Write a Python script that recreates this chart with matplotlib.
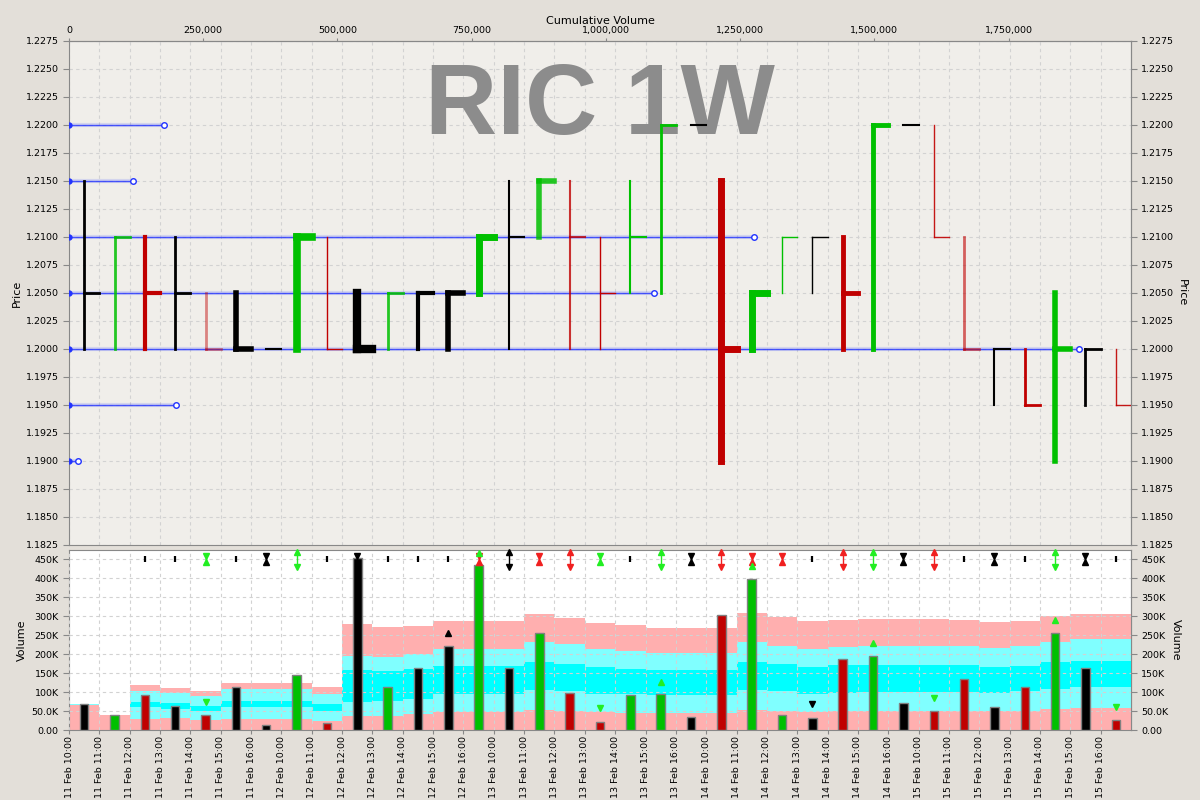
""" ric_1w.py

HLC bars by hourly slot, volume-at-price lines on a cumulative volume scale,
and hourly volume with percentile bands underneath.
"""

import numpy as np
import matplotlib
matplotlib.use('Agg')
import matplotlib.pyplot as plt
from matplotlib.ticker import FuncFormatter, MultipleLocator

days = ['11 Feb', '12 Feb', '13 Feb', '14 Feb', '15 Feb']
hours = ['10:00', '11:00', '12:00', '13:00', '14:00', '15:00', '16:00']
slot_labels = [f'{d} {h}' for d in days for h in hours]

# price bars, one per hourly slot
bar_high = [1.215, 1.210, 1.210, 1.210, 1.205, 1.205, 1.200, 1.210, 1.210, 1.205,
            1.205, 1.205, 1.205, 1.210, 1.215, 1.215, 1.215, 1.210, 1.215, 1.220,
            1.220, 1.215, 1.205, 1.210, 1.210, 1.210, 1.220, 1.220, 1.220, 1.210,
            1.200, 1.200, 1.205, 1.200, 1.200]
bar_low = [1.200, 1.200, 1.200, 1.200, 1.200, 1.200, 1.200, 1.200, 1.200, 1.200,
           1.200, 1.200, 1.200, 1.205, 1.200, 1.210, 1.200, 1.200, 1.205, 1.205,
           1.220, 1.190, 1.200, 1.205, 1.205, 1.200, 1.200, 1.220, 1.210, 1.200,
           1.195, 1.195, 1.190, 1.195, 1.195]
bar_close = [1.205, 1.210, 1.205, 1.205, 1.200, 1.200, 1.200, 1.210, 1.200, 1.200,
             1.205, 1.205, 1.205, 1.210, 1.210, 1.215, 1.210, 1.205, 1.210, 1.220,
             1.220, 1.200, 1.205, 1.210, 1.210, 1.205, 1.220, 1.220, 1.210, 1.200,
             1.200, 1.195, 1.200, 1.200, 1.195]
bar_dir = ['k', 'g', 'r', 'k', 'r', 'k', 'k', 'g', 'r', 'k',
           'g', 'k', 'k', 'g', 'k', 'g', 'r', 'r', 'g', 'g',
           'k', 'r', 'g', 'g', 'k', 'r', 'g', 'k', 'r', 'r',
           'k', 'r', 'g', 'k', 'r']
bar_lw = [2, 2, 3, 2, 2, 4, 1.5, 5.5, 1, 6,
          2, 3, 4, 5, 1.5, 4, 1.5, 1, 1.5, 2,
          1.5, 5, 5, 1, 1, 3.5, 3.5, 1.5, 1, 2,
          1.5, 2, 4, 2, 1]
bar_alpha = [1, 0.85, 1, 1, 0.45, 1, 1, 1, 1, 1,
             0.85, 1, 1, 1, 1, 0.85, 0.8, 1, 1, 1,
             1, 1, 1, 1, 1, 1, 1, 1, 0.9, 0.6,
             1, 1, 1, 1, 0.9]

# hourly volume (thousands)
volume = [67.6, 38.6, 91, 62, 38.6, 112, 12, 146, 17.6, 452,
          112, 164, 222, 433, 164, 256, 96.5, 22, 91, 94,
          35, 303, 398, 39, 32, 186, 196, 70, 49, 133,
          60, 112, 254, 162, 25.5]

# volume band boundaries (thousands), bottom to top
band_1 = [66, 39.5, 28.9, 32.5, 26.3, 29.8, 29.8, 29.8, 24.6, 36.8,
          37.7, 42.1, 47.4, 47.4, 47.4, 52.6, 50.9, 47.4, 45.6, 44.7,
          44.7, 44.7, 52.6, 50, 46.5, 49.1, 50, 50, 50, 50,
          49.1, 50.9, 55.3, 57.9, 57.9]
band_2 = [67, 39.5, 59.6, 54.4, 49.1, 59.6, 59.6, 59.6, 49.1, 73.7,
          75.4, 82.5, 93.9, 93.9, 93.9, 105.3, 102.6, 94.7, 93.9, 91.2,
          91.2, 91.2, 104.4, 101.8, 94.7, 97.4, 100, 100, 100, 100.5,
          97.4, 102.6, 108.8, 114, 114]
band_3 = [67, 39.5, 74.6, 70.2, 63.2, 77.2, 77.2, 77.2, 68.4, 157.9,
          154.4, 161.4, 167.6, 167.6, 167.6, 178.9, 174.5, 164.9, 160.5, 157.9,
          157.9, 157.9, 178.9, 173.7, 166.7, 170.2, 171.9, 171.9, 171.9, 171,
          165.8, 169.3, 178.1, 181.6, 181.6]
band_4 = [68, 39.5, 101.8, 96.5, 89.5, 107, 107, 107, 94.7, 194.7,
          191.2, 199.1, 214, 214, 214, 231.6, 225.5, 212.3, 207.9, 203.5,
          203.5, 203.5, 231.6, 221.8, 213.2, 217.6, 221.8, 221.8, 221.8, 221.5,
          215.8, 221, 232.5, 238.6, 238.6]
band_5 = [68, 39.5, 117.5, 109.6, 102.6, 124.5, 124.5, 124.5, 114, 279,
          271, 273.7, 287.7, 287.7, 287.7, 304.4, 295.6, 281.6, 275.4, 269.3,
          269.3, 269.3, 307, 296.5, 286.8, 289.5, 292.1, 292.1, 292.1, 289.5,
          283.3, 286.8, 300.9, 306.1, 306.1]

# signal glyphs at the top of the volume panel
sig_kind = ['', '', 'I', 'I', 'bow', 'I', 'bow', 'arrows', 'I', 'down',
            'I', 'I', 'I', 'bow', 'arrows', 'bow', 'arrows', 'bow', 'I', 'arrows',
            'bow', 'arrows', 'bow', 'bow', 'I', 'arrows', 'arrows', 'bow', 'arrows', 'I',
            'bow', 'I', 'arrows', 'bow', 'I']
sig_color = ['k', 'k', 'k', 'k', 'g', 'k', 'k', 'g', 'k', 'k',
             'k', 'k', 'k', 'r', 'k', 'r', 'r', 'g', 'k', 'g',
             'k', 'r', 'r', 'r', 'k', 'r', 'g', 'k', 'r', 'k',
             'k', 'k', 'g', 'k', 'k']

# extra arrow marks (slot, thousands, up/down, colour)
mark_slot = [4, 12, 13, 17, 19, 22, 24, 26, 28, 32, 34]
mark_value = [73, 256, 466, 58, 127, 432, 68, 230, 83, 289, 60]
mark_dir = ['v', '^', '^', 'v', '^', '^', 'v', '^', 'v', '^', 'v']
mark_color = ['g', 'k', 'g', 'g', 'g', 'g', 'k', 'g', 'g', 'g', 'g']

# volume at price
vap_price = [1.220, 1.215, 1.210, 1.205, 1.200, 1.195, 1.190]
vap_volume = [177000, 119000, 1275000, 1090000, 1881000, 199000, 17000]
VAP_MAX = 1978000

BAR_COLORS = {'k': '#000000', 'g': '#00C000', 'r': '#C00000'}
SIG_COLORS = {'k': '#000000', 'g': '#22EE22', 'r': '#F02020'}
PINK = '#FFAFAF'
LIGHT_CYAN = '#80FFFF'
CYAN = '#00FFFF'
GRID_KW = dict(color='#D2D2D2', linestyle=(0, (3, 3)), linewidth=0.8)
TICK_FS = 6.8
LABEL_FS = 8

plt.rcParams['font.family'] = ['DejaVu Sans']
plt.rcParams['font.size'] = TICK_FS

fig = plt.figure(figsize=(12, 8), dpi=100, facecolor='#E3DFD9')
ax = fig.add_axes([69 / 1200, 1 - 545 / 800, 1062 / 1200, 504 / 800], facecolor='#F0EEEA')
ax_v = fig.add_axes([69 / 1200, 1 - 730 / 800, 1062 / 1200, 180 / 800],
                    facecolor='white', sharex=ax)

n = len(volume)
xs = np.arange(n) + 0.5

# ---- price panel
for i in range(n):
    col = BAR_COLORS[bar_dir[i]]
    kw = dict(color=col, lw=bar_lw[i], alpha=bar_alpha[i], zorder=4,
              solid_capstyle='projecting')
    if bar_high[i] != bar_low[i]:
        ax.plot([xs[i], xs[i]], [bar_low[i], bar_high[i]], **kw)
    ax.plot([xs[i], xs[i] + 0.5], [bar_close[i], bar_close[i]], **kw)

# volume-at-price lines on the cumulative volume scale
vol2slot = lambda v: np.asarray(v) * n / VAP_MAX
slot2vol = lambda s: np.asarray(s) * VAP_MAX / n
for price, vol in zip(vap_price, vap_volume):
    xv = vol2slot([0, vol])
    ax.plot(xv, [price, price], color='#3344FF', lw=3, alpha=0.15, zorder=3)
    ax.plot(xv, [price, price], color='#2233FF', lw=1, alpha=0.8, zorder=3)
    ax.plot(xv[0], price, 'o', ms=3.5, color='#2233FF', zorder=3)
    ax.plot(xv[1], price, 'o', ms=4, mfc='white', mec='#2233FF', mew=1, zorder=3)

ax.text(0.5, 0.868, 'RIC 1W', transform=ax.transAxes, ha='center', va='center',
        fontsize=72, fontweight='bold', family='Liberation Sans', color='#8C8C8C',
        zorder=2)

ax.set_xlim(0, n)
ax.set_ylim(1.1825, 1.2275)
ax.yaxis.set_major_locator(MultipleLocator(0.0025))
ax.yaxis.set_major_formatter(FuncFormatter(lambda v, p: f'{v:.4f}'))
ax.set_xticks(range(n))
ax.tick_params(axis='x', which='both', bottom=False, labelbottom=False)
ax.set_ylabel('Price', fontsize=LABEL_FS, labelpad=3)
ax.grid(True, **GRID_KW)
ax.set_axisbelow(True)

ax_top = ax.secondary_xaxis('top', functions=(slot2vol, vol2slot))
ax_top.set_xticks(np.arange(0, 1750001, 250000))
ax_top.xaxis.set_major_formatter(FuncFormatter(lambda v, p: f'{v:,.0f}'))
ax_top.set_xlabel('Cumulative Volume', fontsize=LABEL_FS, labelpad=2)

ax_r = ax.secondary_yaxis('right')
ax_r.yaxis.set_major_locator(MultipleLocator(0.0025))
ax_r.yaxis.set_major_formatter(FuncFormatter(lambda v, p: f'{v:.4f}'))
ax_r.set_ylabel('Price', rotation=270, labelpad=9, fontsize=LABEL_FS)

# ---- volume panel
edges = np.arange(n + 1)
bands = [np.zeros(n), band_1, band_2, band_3, band_4, band_5]
band_cols = [PINK, LIGHT_CYAN, CYAN, LIGHT_CYAN, PINK]
for lo, hi, c in zip(bands[:-1], bands[1:], band_cols):
    ax_v.fill_between(edges, np.append(lo, lo[-1]), np.append(hi, hi[-1]),
                      step='post', color=c, lw=0, zorder=1)

ax_v.bar(xs, volume, width=0.28, color=[BAR_COLORS[c] for c in bar_dir],
         edgecolor='#808080', linewidth=1, zorder=3)

for i in range(n):
    kind = sig_kind[i]
    c = SIG_COLORS[sig_color[i]]
    x = xs[i]
    if kind == 'I':
        ax_v.plot([x, x], [442, 459], color=c, lw=1.6, zorder=5, solid_capstyle='butt')
    elif kind == 'bow':
        ax_v.plot([x, x], [442, 459], color=c, lw=1, zorder=5)
        ax_v.plot(x, 459, 'v', ms=4.5, color=c, zorder=5)
        ax_v.plot(x, 442, '^', ms=4.5, color=c, zorder=5)
    elif kind == 'arrows':
        ax_v.plot([x, x], [430, 468], color=c, lw=1, zorder=5)
        ax_v.plot(x, 468, '^', ms=4.5, color=c, zorder=5, clip_on=False)
        ax_v.plot(x, 430, 'v', ms=4.5, color=c, zorder=5)
    elif kind == 'down':
        ax_v.plot(x, 458, 'v', ms=4.5, color=c, zorder=5)

for s, v, d, c in zip(mark_slot, mark_value, mark_dir, mark_color):
    ax_v.plot(xs[s], v, d, ms=5, color=SIG_COLORS[c], zorder=5)

ax_v.set_ylim(0, 473.7)
ax_v.yaxis.set_major_locator(MultipleLocator(50))
vol_fmt = FuncFormatter(lambda v, p: '0.00' if v == 0 else (f'{v:.1f}K' if v < 100 else f'{v:.0f}K'))
ax_v.yaxis.set_major_formatter(vol_fmt)
ax_v.set_xticks(range(n))
ax_v.set_xticklabels(slot_labels, rotation=90)
ax_v.set_ylabel('Volume', fontsize=LABEL_FS, labelpad=3)
ax_v.grid(True, **GRID_KW)
ax_v.set_axisbelow(False)
for ln in ax_v.get_xgridlines() + ax_v.get_ygridlines():
    ln.set_zorder(2)

ax_vr = ax_v.secondary_yaxis('right')
ax_vr.yaxis.set_major_locator(MultipleLocator(50))
ax_vr.yaxis.set_major_formatter(vol_fmt)
ax_vr.set_ylabel('Volume', rotation=270, labelpad=9, fontsize=LABEL_FS)

for a in (ax, ax_v, ax_top, ax_r, ax_vr):
    for sp in a.spines.values():
        sp.set_color('#888888')
    a.tick_params(colors='#888888', labelcolor='black', labelsize=TICK_FS, length=4)
ax_top.tick_params(length=2.5, pad=1.5)
ax_v.tick_params(axis='x', length=3, pad=1)

fig.savefig('out.png', dpi=100, facecolor=fig.get_facecolor())
